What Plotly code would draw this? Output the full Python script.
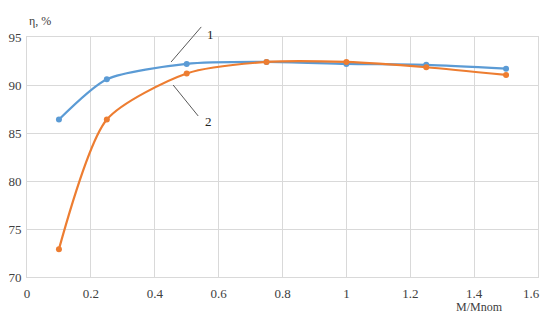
import plotly.graph_objects as go

# load ratio M/Mnom
load = [0.1, 0.25, 0.5, 0.75, 1.0, 1.25, 1.5]
# efficiency, %
eta_1 = [86.4, 90.6, 92.2, 92.4, 92.2, 92.1, 91.7]
eta_2 = [72.9, 86.4, 91.2, 92.4, 92.4, 91.85, 91.05]

x_ticks = [0, 0.2, 0.4, 0.6, 0.8, 1, 1.2, 1.4, 1.6]
x_tick_text = ["0", "0.2", "0.4", "0.6", "0.8", "1", "1.2", "1.4", "1.6"]
y_ticks = [70, 75, 80, 85, 90, 95]

BLUE = "#5B9BD5"
ORANGE = "#ED7D31"
GRID = "#d9d9d9"
TXT = "#404040"
SERIF = "Liberation Serif"

fig = go.Figure()
fig.add_trace(go.Scatter(
    x=load, y=eta_1, mode="lines+markers", name="1",
    line=dict(color=BLUE, width=2.2, shape="spline", smoothing=0.7),
    marker=dict(color=BLUE, size=6),
))
fig.add_trace(go.Scatter(
    x=load, y=eta_2, mode="lines+markers", name="2",
    line=dict(color=ORANGE, width=2.2, shape="spline", smoothing=0.7),
    marker=dict(color=ORANGE, size=6),
))

# leader lines for curve labels
fig.add_shape(type="line", xref="paper", yref="paper",
              x0=0.282, y0=0.896, x1=0.341, y1=1.042,
              line=dict(color="#595959", width=1))
fig.add_shape(type="line", xref="paper", yref="paper",
              x0=0.286, y0=0.800, x1=0.335, y1=0.671,
              line=dict(color="#595959", width=1))

fig.add_annotation(text="1", xref="paper", yref="paper", x=0.360, y=1.05,
                   showarrow=False, font=dict(family=SERIF, size=13, color="#222"))
fig.add_annotation(text="2", xref="paper", yref="paper", x=0.356, y=0.65,
                   showarrow=False, font=dict(family=SERIF, size=13, color="#222"))
fig.add_annotation(text="η, %", xref="paper", yref="paper", x=0.0, y=1.104,
                   xanchor="left", showarrow=False,
                   font=dict(family=SERIF, size=12, color=TXT))
fig.add_annotation(text="M/Mnom", xref="paper", yref="paper", x=0.935, y=-0.1625,
                   showarrow=False, font=dict(family=SERIF, size=12, color=TXT))

# last x tick label drawn separately so it is not cut at the window edge
fig.add_annotation(text=x_tick_text[-1], xref="x", yref="paper", x=x_ticks[-1],
                   y=-0.067, xanchor="right", yanchor="middle", xshift=4,
                   showarrow=False, font=dict(family=SERIF, size=13, color=TXT))

fig.update_xaxes(
    range=[0, 1.6], tickvals=x_ticks[:-1], ticktext=x_tick_text[:-1],
    showgrid=True, gridcolor=GRID, gridwidth=1, zeroline=False,
    showline=True, linecolor=GRID, mirror=True,
    ticklabelstandoff=4, automargin=False,
    tickfont=dict(family=SERIF, size=13, color=TXT),
)
fig.update_yaxes(
    range=[70, 95], tickvals=y_ticks,
    showgrid=True, gridcolor=GRID, gridwidth=1, zeroline=False,
    showline=True, linecolor=GRID, mirror=True,
    ticklabelstandoff=2, automargin=False,
    tickfont=dict(family=SERIF, size=13, color=TXT),
)
# page body adds an 8px margin, so shift the figure to fit the window
fig.update_layout(
    width=542, height=315,
    margin=dict(l=19, r=12, t=29, b=46),
    plot_bgcolor="white", paper_bgcolor="white",
    font=dict(family=SERIF),
    showlegend=False,
)

fig.write_html("out.html")
